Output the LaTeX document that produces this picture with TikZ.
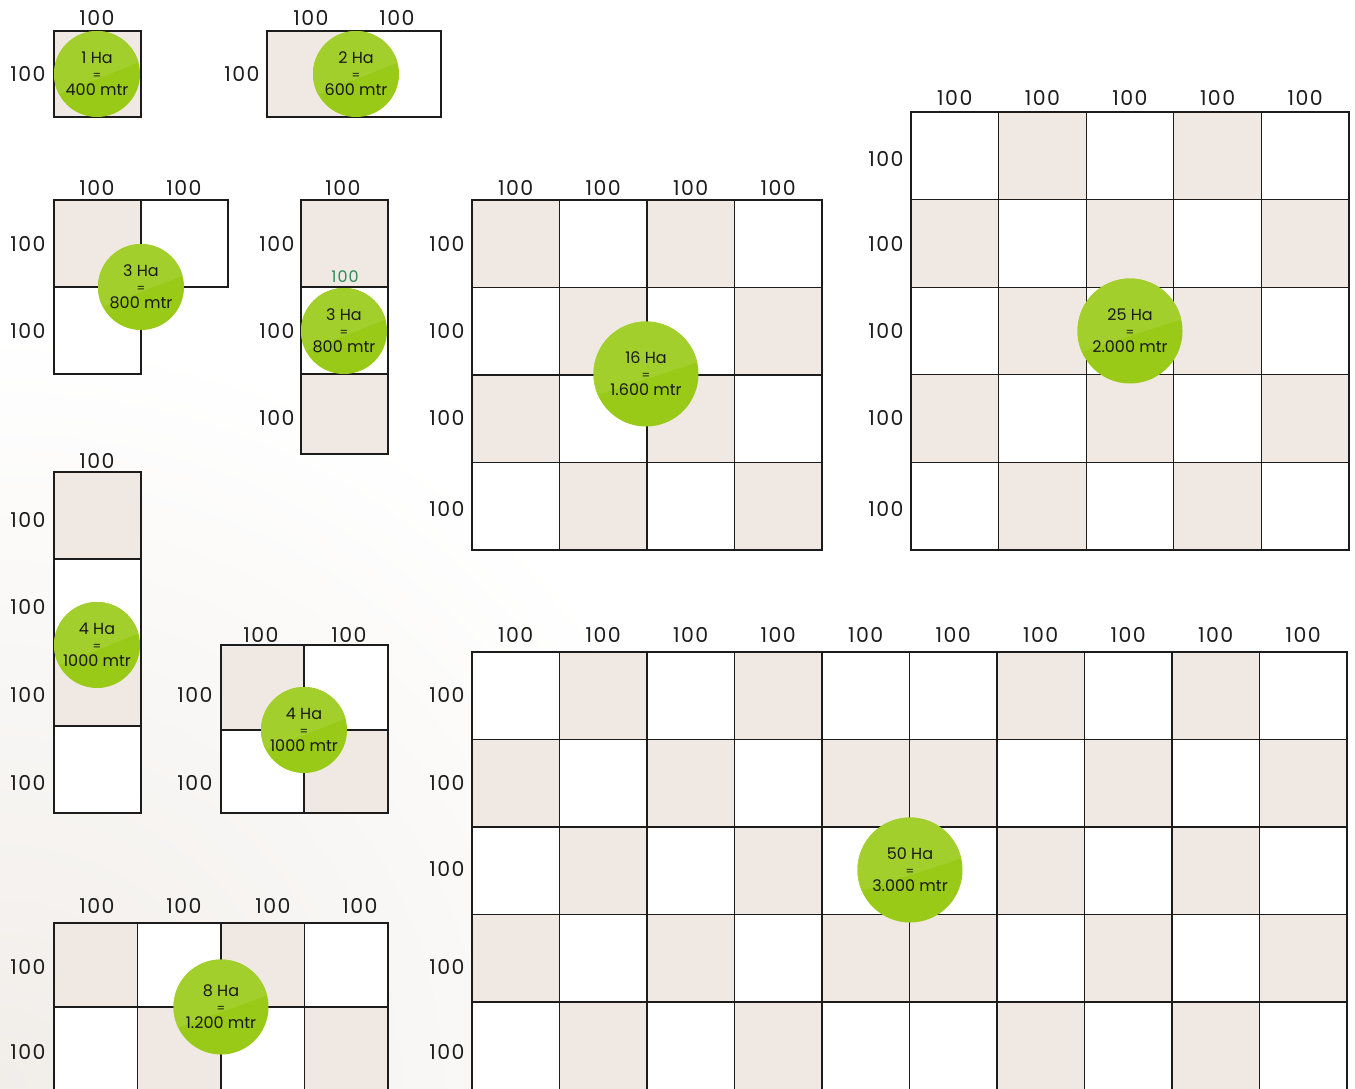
\documentclass[tikz,border=0pt]{standalone}
\usepackage{fontspec}
\setmainfont{Poppins}
\newfontfamily\dimfont{Poppins}[LetterSpace=7]
\usepackage{xcolor}
\definecolor{plotink}{HTML}{1C1C1C}
\definecolor{plotsoil}{HTML}{F0E8E2}
\definecolor{plotleaf}{HTML}{99CA17}
\definecolor{plotleafhi}{HTML}{A3CF2D}
\definecolor{plotmark}{HTML}{2F8C58}
\definecolor{plotbg}{HTML}{F1EDE9}
\newcommand{\haeq}{{\fontsize{12}{12}\selectfont =}}

\begin{document}
\begin{tikzpicture}[
  x=1pt, y=-1pt,
  cell/.style={draw=plotink, line width=1.3pt, fill=white},
  soil/.style={cell, fill=plotsoil},
  dim/.style={font=\dimfont\fontsize{20.5}{20.5}\selectfont, text=plotink, inner sep=0pt},
  ha/.style={circle, fill=plotleaf, inner sep=0pt, minimum size=86pt, align=center, text=plotink!90!black, font=\fontsize{16}{16}\selectfont,
    path picture={\fill[plotleafhi] ([yshift=-22pt]path picture bounding box.west) -- ([yshift=12pt]path picture bounding box.east) -- (path picture bounding box.north east) -- (path picture bounding box.north west) -- cycle;}},
  hawide/.style={ha, minimum size=105pt}
]
  \useasboundingbox (0,0) rectangle (1355,1088);
  \clip (0,0) rectangle (1355,1088);
  \fill[white] (0,0) rectangle (1355,1088);
  \shade[inner color=plotbg, outer color=white] (0,1088) circle (760);

  % 1 Ha
  \draw[soil] (54,31) rectangle (141,117);
  \node[dim] (a-top) at (97,18) {100};
  \node[dim] (a-left) at (28,74) {100};
  \node[ha] (ha1) at (97,74) {1 Ha\\\haeq\\400 mtr};

  % 2 Ha
  \draw[soil] (267,31) rectangle (354,117);
  \draw[cell] (354,31) rectangle (441,117);
  \node[dim] (b-top1) at (311,18) {100};
  \node[dim] (b-top2) at (397,18) {100};
  \node[dim] (b-left) at (242,74) {100};
  \node[ha] (ha2) at (356,74) {2 Ha\\\haeq\\600 mtr};

  % 3 Ha, corner
  \draw[soil] (54,200) rectangle (141,287);
  \draw[cell] (141,200) rectangle (228,287);
  \draw[cell] (54,287) rectangle (141,374);
  \node[dim] (c-top1) at (97,188) {100};
  \node[dim] (c-top2) at (184,188) {100};
  \node[dim] (c-left1) at (28,244) {100};
  \node[dim] (c-left2) at (28,331) {100};
  \node[ha] (ha3a) at (141,287) {3 Ha\\\haeq\\800 mtr};

  % 3 Ha, column
  \draw[soil] (301,200) rectangle (388,287);
  \draw[cell] (301,287) rectangle (388,374);
  \draw[soil] (301,374) rectangle (388,454);
  \node[dim] (d-top) at (343,188) {100};
  \node[dim] (d-left1) at (277,244) {100};
  \node[dim] (d-left2) at (277,331) {100};
  \node[dim] (d-left3) at (277,418) {100};
  \node[dim, text=plotmark, font=\dimfont\fontsize{16}{16}\selectfont] (d-mark) at (345,277) {100};
  \node[ha] (ha3b) at (344,331) {3 Ha\\\haeq\\800 mtr};

  % 4 Ha, column
  \draw[soil] (54,472) rectangle (141,559);
  \draw[cell] (54,559) rectangle (141,645);
  \draw[soil] (54,645) rectangle (141,726);
  \draw[cell] (54,726) rectangle (141,813);
  \node[dim] (e-top) at (97,461) {100};
  \node[dim] (e-left1) at (28,520) {100};
  \node[dim] (e-left2) at (28,607) {100};
  \node[dim] (e-left3) at (28,695) {100};
  \node[dim] (e-left4) at (28,783) {100};
  \node[ha] (ha4a) at (97,645) {4 Ha\\\haeq\\1000 mtr};

  % 4 Ha, square
  \draw[soil] (221,645) rectangle (304,730);
  \draw[cell] (304,645) rectangle (388,730);
  \draw[cell] (221,730) rectangle (304,813);
  \draw[soil] (304,730) rectangle (388,813);
  \node[dim] (f-top1) at (261,635) {100};
  \node[dim] (f-top2) at (349,635) {100};
  \node[dim] (f-left1) at (195,695) {100};
  \node[dim] (f-left2) at (195,783) {100};
  \node[ha] (ha4b) at (304,730) {4 Ha\\\haeq\\1000 mtr};

  % 8 Ha
  \foreach \r in {0,1}
    \foreach \c in {0,...,3} {
      \pgfmathtruncatemacro{\p}{mod(\r+\c,2)}
      \ifnum\p=0 \def\tone{plotsoil}\else\def\tone{white}\fi
      \draw[cell, fill=\tone] ({54+83.5*\c},{923+84*\r}) rectangle ++(83.5,84);
    }
  \node[dim] (g-top1) at (97,906) {100};
  \node[dim] (g-top2) at (184,906) {100};
  \node[dim] (g-top3) at (273,906) {100};
  \node[dim] (g-top4) at (360,906) {100};
  \node[dim] (g-left1) at (28,967) {100};
  \node[dim] (g-left2) at (28,1052) {100};
  \node[ha, minimum size=95pt] (ha8) at (221,1007) {8 Ha\\\haeq\\1.200 mtr};

  % 16 Ha
  \foreach \r in {0,...,3}
    \foreach \c in {0,...,3} {
      \pgfmathtruncatemacro{\p}{mod(\r+\c,2)}
      \ifnum\p=0 \def\tone{plotsoil}\else\def\tone{white}\fi
      \draw[cell, fill=\tone] ({472+87.5*\c},{200+87.5*\r}) rectangle ++(87.5,87.5);
    }
  \foreach \c in {0,...,3}
    \node[dim] (h-top\c) at ({515.75+87.5*\c},188) {100};
  \node[dim] (h-left1) at (447,244) {100};
  \node[dim] (h-left2) at (447,331) {100};
  \node[dim] (h-left3) at (447,418) {100};
  \node[dim] (h-left4) at (447,509) {100};
  \node[hawide] (ha16) at (646,374) {16 Ha\\\haeq\\1.600 mtr};

  % 25 Ha
  \foreach \r in {0,...,4}
    \foreach \c in {0,...,4} {
      \pgfmathtruncatemacro{\p}{mod(\r+\c,2)}
      \ifnum\p=1 \def\tone{plotsoil}\else\def\tone{white}\fi
      \draw[cell, fill=\tone] ({911+87.6*\c},{112+87.6*\r}) rectangle ++(87.6,87.6);
    }
  \foreach \c in {0,...,4}
    \node[dim] (i-top\c) at ({954.8+87.6*\c},98) {100};
  \node[dim] (i-left1) at (886,159) {100};
  \node[dim] (i-left2) at (886,244) {100};
  \node[dim] (i-left3) at (886,331) {100};
  \node[dim] (i-left4) at (886,418) {100};
  \node[dim] (i-left5) at (886,509) {100};
  \node[hawide] (ha25) at (1130,331) {25 Ha\\\haeq\\2.000 mtr};

  % 50 Ha
  \foreach \r in {0,...,5}
    \foreach \c in {0,...,9} {
      \pgfmathtruncatemacro{\p}{mod(\r+mod(\c,5),2)}
      \ifnum\p=1 \def\tone{plotsoil}\else\def\tone{white}\fi
      \draw[cell, fill=\tone] ({472+87.5*\c},{652+87.5*\r}) rectangle ++(87.5,87.5);
    }
  \foreach \c in {0,...,9}
    \node[dim] (j-top\c) at ({515.75+87.5*\c},635) {100};
  \node[dim] (j-left1) at (447,695) {100};
  \node[dim] (j-left2) at (447,783) {100};
  \node[dim] (j-left3) at (447,869) {100};
  \node[dim] (j-left4) at (447,967) {100};
  \node[dim] (j-left5) at (447,1052) {100};
  \node[hawide] (ha50) at (910,870) {50 Ha\\\haeq\\3.000 mtr};
\end{tikzpicture}
\end{document}
